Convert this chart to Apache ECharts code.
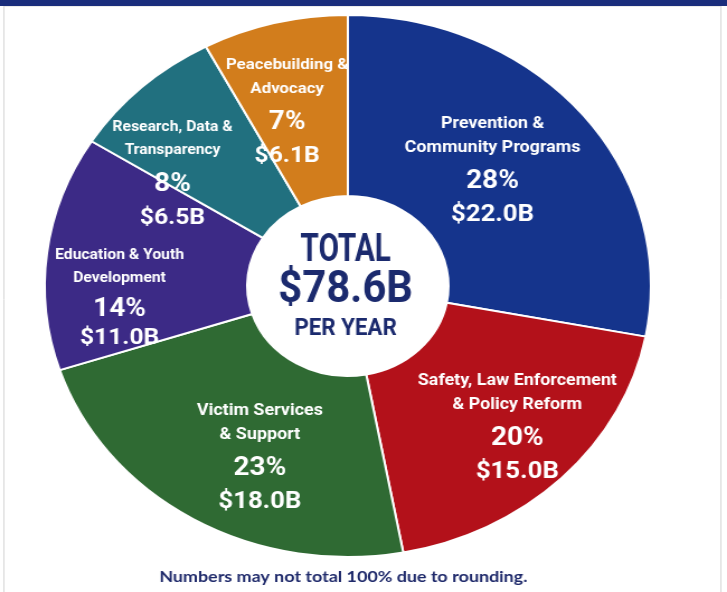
<!DOCTYPE html>
<html>
<head>
<meta charset="utf-8">
<script src="https://cdn.jsdelivr.net/npm/echarts@6/dist/echarts.min.js"></script>
<style>
  html, body { margin: 0; padding: 0; background: #ffffff; overflow: hidden; }
  #wrap { width: 727px; height: 592px; position: relative; overflow: hidden; }
  #chart { width: 650px; height: 592px; transform: scaleX(1.1185); transform-origin: 0 0; }
</style>
</head>
<body>
<div id="wrap"><div id="chart"></div></div>
<script>
// ---- data ----
const categories = [
  'Prevention &\nCommunity Programs',
  'Safety, Law Enforcement\n& Policy Reform',
  'Victim Services\n& Support',
  'Education & Youth\nDevelopment',
  'Research, Data &\nTransparency',
  'Peacebuilding &\nAdvocacy'
];
const valuesB = [22.0, 15.0, 18.0, 11.0, 6.5, 6.1];
const percentLabels = ['28%', '20%', '23%', '14%', '8%', '7%'];
const totalLabel = '$78.6B';
const colors = ['#15348c', '#b3111a', '#2f6a33', '#3c2a86', '#21707f', '#d27d1c'];
// label style keys and nudges (px) to follow the reference placement
const nameStyle = ['n', 'n', 'n', 'ns', 'ns', 'nm'];
const pctStyle = ['p', 'p', 'p', 'pc', 'p', 'p'];
const valueStyle = ['v', 'v', 'v', 'vc', 'vs', 'vs'];
const labelShift = [[-12, 0], [22, 10], [15, 12], [-22, 33], [-32, 22], [-10, 3]];

const FONT = 'Roboto';
const navy = '#1b2a6e';
const cx = 311, cy = 286;

function textStyle(size, lh) {
  return { fontSize: size, lineHeight: lh, color: '#ffffff', fontFamily: FONT, fontWeight: 'bold', align: 'center' };
}

const chart = echarts.init(document.getElementById('chart'));
chart.setOption({
  backgroundColor: '#ffffff',
  animation: false,
  graphic: [
    { type: 'rect', shape: { x: 0, y: 0, width: 650, height: 6 }, style: { fill: '#1a2d7c' }, z: 10 },
    { type: 'rect', shape: { x: 3.5, y: 6, width: 641, height: 600 }, style: { fill: 'none', stroke: '#d8d8d8', lineWidth: 1 }, z: 0 },
    { type: 'text', x: cx - 2, y: 251, scaleX: 0.7, style: { text: 'TOTAL', fill: navy, font: 'bold 38px Roboto', textAlign: 'center', textVerticalAlign: 'middle' }, z: 20 },
    { type: 'text', x: cx - 2, y: 291, scaleX: 0.83, style: { text: totalLabel, fill: navy, font: 'bold 45px Roboto', textAlign: 'center', textVerticalAlign: 'middle' }, z: 20 },
    { type: 'text', x: cx - 2, y: 329, scaleX: 0.83, style: { text: 'PER YEAR', fill: navy, font: 'bold 24px Roboto', textAlign: 'center', textVerticalAlign: 'middle' }, z: 20 },
    { type: 'text', x: 307, y: 577, style: { text: 'Numbers may not total 100% due to rounding.', fill: '#1f2a6b', font: 'bold 16px Lato, "Open Sans", sans-serif', textAlign: 'center', textVerticalAlign: 'middle' }, z: 20 }
  ],
  series: [{
    type: 'pie',
    center: [cx, cy],
    radius: [90, 271],
    startAngle: 90,
    clockwise: true,
    silent: true,
    itemStyle: { borderColor: '#ffffff', borderWidth: 2 },
    label: {
      show: true,
      position: 'inside',
      color: '#ffffff',
      fontFamily: FONT,
      fontWeight: 'bold',
      formatter: function (p) {
        const i = p.dataIndex;
        return '{' + nameStyle[i] + '|' + p.name + '}\n{' + pctStyle[i] + '|' + percentLabels[i] + '}\n{' + valueStyle[i] + '|$' + p.value.toFixed(1) + 'B}';
      },
      rich: {
        n: textStyle(16, 24),
        nm: textStyle(15, 24),
        ns: textStyle(14, 23),
        p: textStyle(25, 44),
        pc: textStyle(25, 38),
        v: textStyle(23, 22),
        vs: textStyle(22, 24),
        vc: textStyle(22, 20)
      }
    },
    labelLayout: function (params) {
      const s = labelShift[params.dataIndex];
      return { dx: s[0], dy: s[1] };
    },
    labelLine: { show: false },
    data: categories.map(function (c, i) {
      return { name: c, value: valuesB[i], itemStyle: { color: colors[i] } };
    })
  }]
});
</script>
</body>
</html>
